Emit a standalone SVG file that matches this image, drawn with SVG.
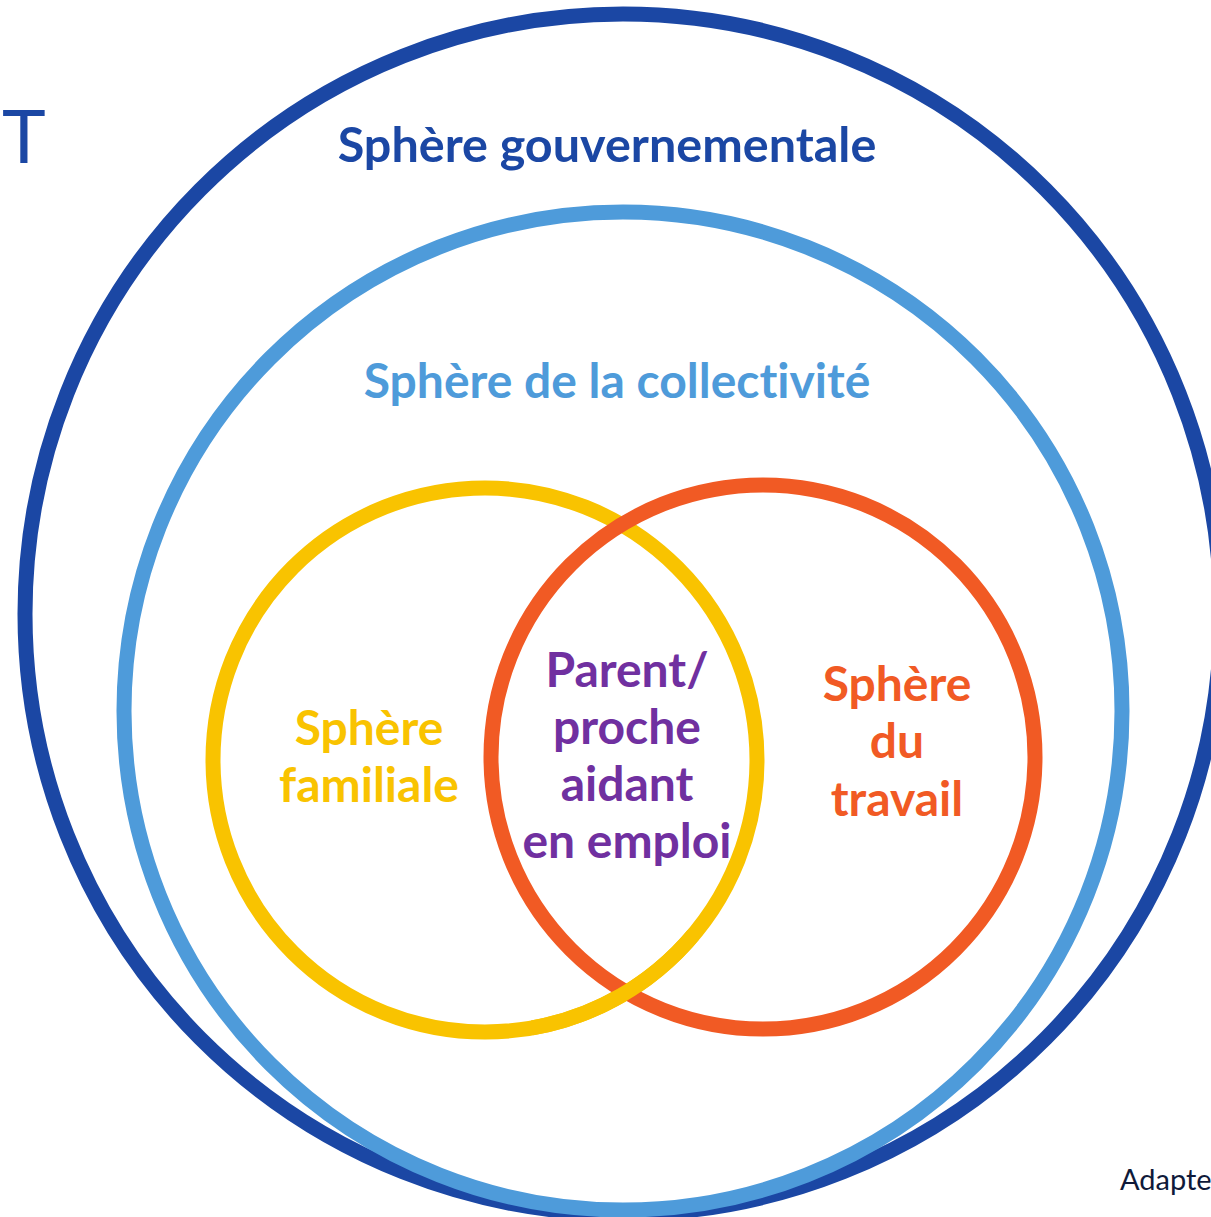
<svg xmlns="http://www.w3.org/2000/svg" width="1211" height="1217" viewBox="0 0 1211 1217">
<style>
.ring{fill:none;stroke-width:15}
.lbl{font-family:Lato,"Noto Sans","Liberation Sans",sans-serif;font-weight:bold;text-anchor:middle;font-size:48px;font-variant-ligatures:none}
</style>
<rect width="1211" height="1217" fill="#ffffff"/>
<g id="gov">
<ellipse class="ring" cx="623" cy="614" rx="598" ry="600" stroke="#1B47A4"/>
<text class="lbl" x="607" y="162" fill="#1B47A4" style="font-size:48.5px">Sphère gouvernementale</text>
</g>
<g id="collectivite">
<circle class="ring" cx="623" cy="711" r="499" stroke="#4E9BDA"/>
<text class="lbl" x="617" y="398" fill="#4E9BDA">Sphère de la collectivité</text>
</g>
<g id="familiale">
<circle class="ring" cx="485" cy="760" r="272" stroke="#F9C300"/>
<text class="lbl" x="369" y="745" fill="#F9C300">Sphère</text>
<text class="lbl" x="369" y="802" fill="#F9C300">familiale</text>
</g>
<g id="travail">
<circle class="ring" cx="763" cy="757" r="272" stroke="#F15A24"/>
<text class="lbl" x="897" y="701" fill="#F15A24">Sphère</text>
<text class="lbl" x="897" y="758" fill="#F15A24">du</text>
<text class="lbl" x="897" y="816" fill="#F15A24">travail</text>
</g>
<g id="overlap-fix">
<path class="ring" d="M 693.4 934.8 A 272 272 0 0 1 532.2 1027.9" stroke="#F9C300"/>
</g>
<g id="aidant">
<text class="lbl" x="627" y="687" fill="#7030A0">Parent/</text>
<text class="lbl" x="627" y="744" fill="#7030A0">proche</text>
<text class="lbl" x="627" y="801" fill="#7030A0">aidant</text>
<text class="lbl" x="627" y="858" fill="#7030A0">en emploi</text>
</g>
<g id="title">
<text x="2" y="163" font-family="Lato,'Noto Sans','Liberation Sans',sans-serif" font-weight="400" font-size="74" fill="#1B47A4">T</text>
</g>
<g id="source">
<text x="1120" y="1190" font-family="Lato,'Noto Sans','Liberation Sans',sans-serif" font-size="29" fill="#0F1A3A">Adapte</text>
</g>
</svg>
